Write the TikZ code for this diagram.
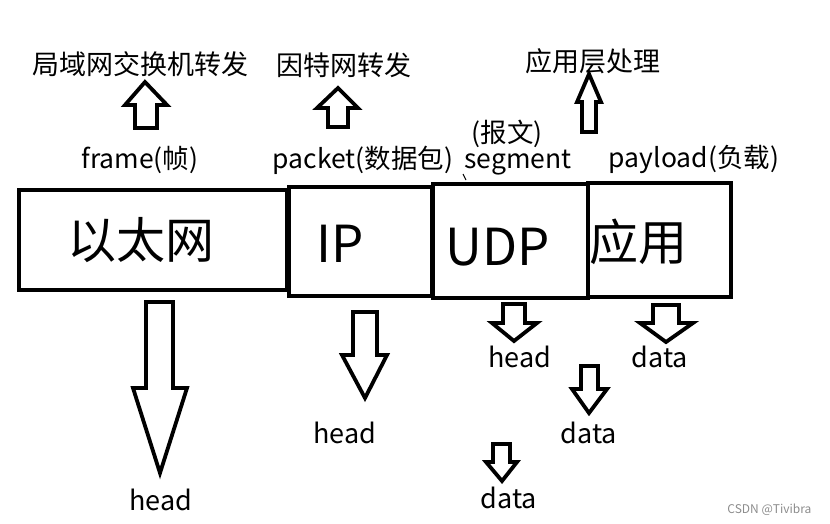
\documentclass[tikz,border=0pt]{standalone}
\usepackage{fontspec}
\setmainfont{Noto Sans CJK SC}
\begin{document}
\begin{tikzpicture}[x=1pt,y=-1pt,
  layerbox/.style={draw=black,line width=4.5pt},
  blockarrow/.style={draw=black,line width=3.8pt,line join=miter,fill=white},
  toptext/.style={anchor=base,font=\fontsize{27}{29}\selectfont},
  lbl/.style={anchor=base,font=\fontsize{26.5}{28}\selectfont},
  big/.style={anchor=base,font=\fontsize{49}{51}\selectfont},
  bigl/.style={anchor=base,font=\fontsize{51}{53}\selectfont},
  small/.style={anchor=base,font=\fontsize{27}{29}\selectfont}]
\useasboundingbox (0,0) rectangle (830,523);
% layer boxes
\draw[layerbox] (19,190) rectangle (287,290);
\draw[layerbox] (289,187) rectangle (432,296);
\draw[layerbox] (433,184) rectangle (588,298);
\draw[layerbox] (588,183) rectangle (731,297);
\node[big] (eth) at (141,258) {以太网};
\node[bigl] (ip) at (340,262) {IP};
\node[bigl] (udp) at (498,265) {UDP};
\node[big] (app) at (638,260) {应用};
% labels above boxes
\node[lbl] (frame) at (140,168) {frame(帧)};
\node[lbl] (packet) at (363,168) {packet(数据包)};
\node[lbl] (baowen) at (507,142) {(报文)};
\node[lbl] (segment) at (518,168) {segment};
\node[lbl] (payload) at (694,167) {payload(负载)};
\draw[line width=1pt] (463,174) -- (466,180);
% top texts
\node[toptext] (lan) at (140,74) {局域网交换机转发};
\node[toptext] (inet) at (344,75) {因特网转发};
\node[toptext] (appproc) at (593,71) {应用层处理};
% up arrows
\draw[blockarrow] (145,82) -- (167,105) -- (157,105) -- (157,128) -- (135,128) -- (135,105) -- (125,105) -- cycle;
\draw[blockarrow] (338,88) -- (358,108) -- (348,108) -- (348,127) -- (328,127) -- (328,108) -- (317,108) -- cycle;
\draw[blockarrow] (589,74) -- (601,102) -- (596,102) -- (596,132) -- (582,132) -- (582,102) -- (577,102) -- cycle;
% down arrows
\draw[blockarrow] (146,302) -- (173,302) -- (173,388) -- (187,388) -- (160,473) -- (133,388) -- (146,388) -- cycle;
\draw[blockarrow] (353,312) -- (377,312) -- (377,355) -- (387,355) -- (365,398) -- (342,355) -- (353,355) -- cycle;
\draw[blockarrow] (503,304) -- (525,304) -- (525,323) -- (537,323) -- (514,341) -- (492,323) -- (503,323) -- cycle;
\draw[blockarrow] (653,305) -- (679,305) -- (679,323) -- (693,323) -- (666,342) -- (640,323) -- (653,323) -- cycle;
\draw[blockarrow] (581,366) -- (598,366) -- (598,389) -- (607,389) -- (589,413) -- (572,389) -- (581,389) -- cycle;
\draw[blockarrow] (493,444) -- (510,444) -- (510,462) -- (517,462) -- (502,481) -- (486,462) -- (493,462) -- cycle;
% bottom texts
\node[small] (headA) at (161,510) {head};
\node[small] (headB) at (345,443) {head};
\node[small] (headC) at (520,367) {head};
\node[small] (dataD) at (660,367) {data};
\node[small] (dataE) at (589,443) {data};
\node[small] (dataF) at (509,508) {data};
\node[anchor=base east,text=black!45,font=\fontsize{12}{14}\selectfont] (wm) at (815,513) {CSDN @Tivibra};
\end{tikzpicture}
\end{document}
